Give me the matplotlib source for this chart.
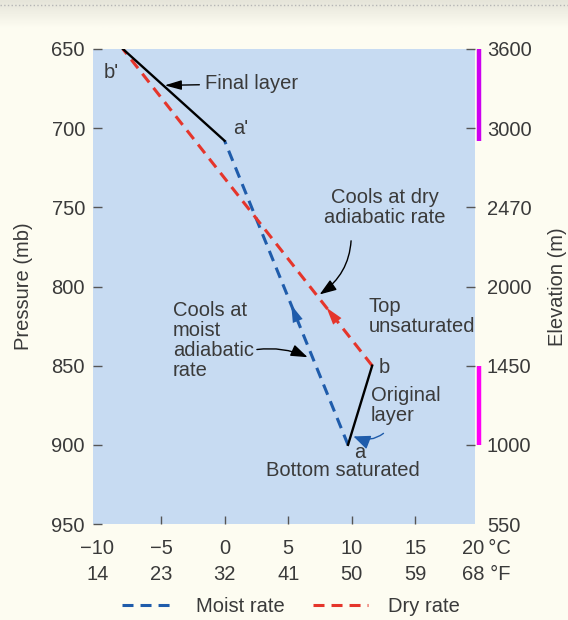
import numpy as np
import matplotlib
matplotlib.use("Agg")
import matplotlib.pyplot as plt
from matplotlib.lines import Line2D
from matplotlib.transforms import blended_transform_factory, offset_copy

plt.rcParams['font.family'] = ['Liberation Sans', 'DejaVu Sans']

# layer end points: temperature (°C), pressure (mb)
moist_temp = [9.7, 0.0]      # a -> a'
moist_pres = [900, 708]
dry_temp = [11.6, -8.0]      # b -> b'
dry_pres = [850, 650]
orig_temp = [9.7, 11.6]      # a -> b  (original layer)
orig_pres = [900, 850]
final_temp = [0.0, -8.0]     # a' -> b' (final layer)
final_pres = [708, 650]

pres_ticks = [650, 700, 750, 800, 850, 900, 950]
elev_labels = ['3600', '3000', '2470', '2000', '1450', '1000', '550']
temp_c = [-10, -5, 0, 5, 10, 15, 20]
temp_f = [14, 23, 32, 41, 50, 59, 68]

TEXT = '#3a3a3a'
BLUE = '#1f5cab'
RED = '#e5352b'
BG = '#c7dbf2'
FS = 14.5
LS = 1.08
DASH = (0, (3.6, 2.3))


def t_at(temp, pres, p):
    # temperature on a straight segment at pressure p
    order = np.argsort(pres)
    return float(np.interp(p, np.array(pres)[order], np.array(temp)[order]))


fig = plt.figure(figsize=(5.68, 6.2), dpi=100, facecolor='#fdfcf1')

# grey band at the very top
top = fig.add_axes([0, 0.955, 1, 0.045])
top.imshow(np.linspace(0, 1, 20).reshape(-1, 1), aspect='auto', cmap=matplotlib.colors.LinearSegmentedColormap.from_list('g', ['#e6e5da', '#fdfcf1']), extent=[0, 1, 0, 1])
top.axis('off')
fig.add_artist(Line2D([0, 1], [0.992, 0.992], color='#b5b5b5', lw=1, ls=':'))

ax = fig.add_axes([0.1637, 0.1548, 0.6725, 0.7662])
ax.set_facecolor(BG)
for s in ax.spines.values():
    s.set_visible(False)
ax.set_xlim(-10.35, 19.68)
ax.set_ylim(950, 650)

# lines
ax.plot(moist_temp, moist_pres, color=BLUE, lw=2.2, ls=DASH, solid_capstyle='butt')
ax.plot(dry_temp, dry_pres, color=RED, lw=2.2, ls=DASH)
ax.plot(orig_temp, orig_pres, color='black', lw=1.7)
ax.plot(final_temp, final_pres, color='black', lw=1.7)

# direction arrowheads on the dashed lines
for temp, pres, p, c in [(moist_temp, moist_pres, 810, BLUE), (dry_temp, dry_pres, 812, RED)]:
    ax.annotate('', xy=(t_at(temp, pres, p), p), xytext=(t_at(temp, pres, p + 4), p + 4),
                arrowprops=dict(arrowstyle='-|>,head_length=1.25,head_width=0.38', color=c,
                                mutation_scale=10, lw=0))

# axes ticks
ax.set_yticks(pres_ticks)
ax.set_yticklabels([str(p) for p in pres_ticks])
ax.tick_params(axis='y', direction='in', length=6.5, width=1, color='#555555',
               labelsize=FS, labelcolor=TEXT, pad=5.8)
ax.set_xticks(temp_c[1:-1])
ax.set_xticklabels([])
ax.tick_params(axis='x', direction='in', length=6, width=1, color='#555555')
for t in ax.yaxis.get_major_ticks():
    if t.get_loc() == 950:
        t.tick1line.set_visible(False)
ax.set_ylabel('Pressure (mb)', fontsize=FS, color=TEXT, labelpad=13)

ax2 = ax.twinx()
ax2.set_ylim(950, 650)
for s in ax2.spines.values():
    s.set_visible(False)
ax2.set_yticks(pres_ticks)
ax2.set_yticklabels(elev_labels)
ax2.tick_params(axis='y', direction='in', length=6.5, width=1, color='#555555',
                labelsize=FS, labelcolor=TEXT, pad=8.6)
for t in ax2.yaxis.get_major_ticks():
    if t.get_loc() == 950:
        t.tick2line.set_visible(False)
ax2.set_ylabel('Elevation (m)', fontsize=FS, color=TEXT, labelpad=12)

# magenta bars marking layer thickness
bt = blended_transform_factory(ax.transAxes, ax.transData)
ax.plot([1.011, 1.011], [final_pres[0], final_pres[1]], transform=bt, color='#cc00f0', lw=3.2,
        clip_on=False, solid_capstyle='butt')
ax.plot([1.011, 1.011], [orig_pres[0], orig_pres[1]], transform=bt, color='#ff00f5', lw=3.2,
        clip_on=False, solid_capstyle='butt')

# temperature labels (°C and °F rows)
xt = blended_transform_factory(ax.transData, ax.transAxes)
for i, (c, f) in enumerate(zip(temp_c, temp_f)):
    cl = ('%d' % c).replace('-', '\u2212')
    if i == len(temp_c) - 1:
        tr = offset_copy(xt, fig=fig, x=-17, y=0, units='dots')
        ax.text(c, -0.0505, cl + '\u2009°C', transform=tr, ha='left', va='center', fontsize=FS, color=TEXT)
        ax.text(c, -0.1053, '%d °F' % f, transform=tr, ha='left', va='center', fontsize=FS, color=TEXT)
    else:
        ax.text(c, -0.0505, cl, transform=xt, ha='center', va='center', fontsize=FS, color=TEXT)
        ax.text(c, -0.1053, '%d' % f, transform=xt, ha='center', va='center', fontsize=FS, color=TEXT)

# point labels
tk = dict(fontsize=FS, color=TEXT)
ax.text(-8.9, 665, "b'", ha='center', va='center', **tk)
ax.text(0.65, 700, "a'", ha='left', va='center', **tk)
ax.text(12.1, 851, 'b', ha='left', va='center', **tk)
ax.text(10.2, 905, 'a', ha='left', va='center', **tk)

# annotations
ax.annotate('Final layer', xy=(t_at(final_temp, final_pres, 673), 673), xytext=(-1.55, 672),
            ha='left', va='center', **tk,
            arrowprops=dict(arrowstyle='-|>,head_length=0.7,head_width=0.2', color='black', lw=1,
                            shrinkA=2, shrinkB=1))
ax.annotate('Cools at dry\nadiabatic rate', xy=(t_at(dry_temp, dry_pres, 806), 806), xytext=(12.6, 750),
            ha='center', va='center', linespacing=LS, **tk,
            arrowprops=dict(arrowstyle='-|>,head_length=0.7,head_width=0.25', color='black', lw=1,
                            connectionstyle='arc3,rad=-0.3', shrinkA=8, shrinkB=2,
                            relpos=(0.22, 0.0)))
ax.text(11.3, 819, 'Top\nunsaturated', ha='left', va='center', linespacing=LS, **tk)
ax.annotate('Original\nlayer', xy=(t_at(orig_temp, orig_pres, 894), 894), xytext=(11.5, 875),
            ha='left', va='center', linespacing=LS, **tk,
            arrowprops=dict(arrowstyle='-|>,head_length=0.7,head_width=0.3', color=BLUE, lw=1,
                            connectionstyle='arc3,rad=-0.4', shrinkA=6, shrinkB=2,
                            relpos=(0.3, 0.0)))
ax.text(9.3, 916, 'Bottom saturated', ha='center', va='center', **tk)
ax.annotate('Cools at\nmoist\nadiabatic\nrate', xy=(t_at(moist_temp, moist_pres, 845) - 0.3, 845),
            xytext=(-4.05, 834), ha='left', va='center', linespacing=LS, **tk,
            arrowprops=dict(arrowstyle='-|>,head_length=0.7,head_width=0.25', color='black', lw=1,
                            connectionstyle='arc3,rad=-0.15', shrinkA=0, shrinkB=1,
                            relpos=(1.0, 0.38)))

# legend
handles = [Line2D([], [], color=BLUE, lw=2.2, ls=DASH), Line2D([], [], color=RED, lw=2.2, ls=DASH)]
fig.legend(handles, ['Moist rate', 'Dry rate'], loc='center', bbox_to_anchor=(0.512, 0.021),
           ncol=2, frameon=False, fontsize=FS, handlelength=2.7, handletextpad=1.0,
           columnspacing=1.4, labelcolor=TEXT)

fig.savefig('out.png', dpi=100, facecolor=fig.get_facecolor())
